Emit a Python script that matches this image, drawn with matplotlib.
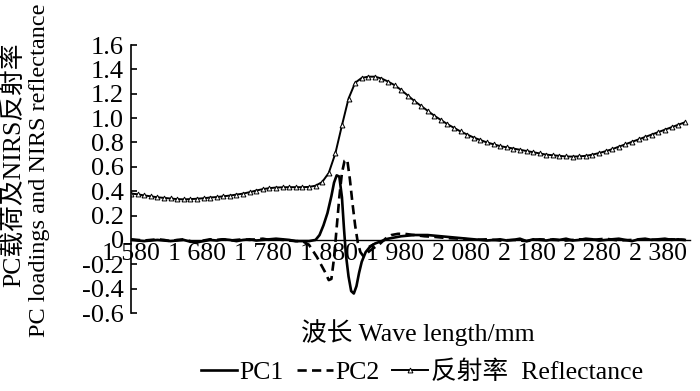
import numpy as np
import matplotlib.pyplot as plt
from matplotlib.lines import Line2D

plt.rcParams['font.family'] = ['Liberation Serif', 'Noto Sans CJK SC']

# reflectance, every 10 nm
wl_ref = list(range(1580, 2430, 10))
reflect = [0.38, 0.375, 0.365, 0.358, 0.35, 0.345, 0.34, 0.335, 0.333, 0.335,
           0.338, 0.342, 0.348, 0.352, 0.358, 0.364, 0.372, 0.38, 0.392, 0.405,
           0.417, 0.425, 0.43, 0.432, 0.433, 0.433, 0.433, 0.435, 0.445, 0.475,
           0.55, 0.71, 0.94, 1.16, 1.29, 1.33, 1.34, 1.34, 1.325, 1.30,
           1.27, 1.23, 1.185, 1.14, 1.10, 1.06, 1.02, 0.985, 0.95, 0.92,
           0.89, 0.865, 0.84, 0.82, 0.80, 0.785, 0.77, 0.76, 0.75, 0.74,
           0.73, 0.72, 0.71, 0.70, 0.695, 0.69, 0.685, 0.684, 0.686, 0.69,
           0.70, 0.713, 0.728, 0.745, 0.765, 0.785, 0.805, 0.825, 0.845, 0.865,
           0.885, 0.905, 0.925, 0.945, 0.965]

wl_pc1 = [1580, 1590, 1600, 1610, 1620, 1630, 1640, 1650, 1660, 1670, 1680, 1690,
          1700, 1710, 1720, 1730, 1740, 1750, 1760, 1770, 1780, 1790, 1800, 1810,
          1820, 1830, 1840, 1850, 1860, 1866, 1872, 1878, 1884, 1888, 1892, 1896,
          1900, 1903, 1906, 1910, 1914, 1918, 1922, 1926, 1930, 1936, 1942, 1950,
          1960, 1970, 1980, 1990, 2000, 2010, 2020, 2030, 2040, 2050, 2060, 2070,
          2080, 2090, 2100, 2110, 2120, 2130, 2140, 2150, 2160, 2170, 2180, 2190,
          2200, 2210, 2220, 2230, 2240, 2250, 2260, 2270, 2280, 2290, 2300, 2310,
          2320, 2330, 2340, 2350, 2360, 2370, 2380, 2390, 2400, 2410, 2420]
pc1 = [0.0, -0.005, -0.01, -0.005, 0.0, -0.005, -0.01, -0.005, 0.0, -0.015, -0.02, -0.01,
       0.0, -0.005, 0.005, 0.0, -0.01, 0.0, 0.005, -0.005, 0.0, 0.005, 0.01, 0.005,
       0.0, -0.01, -0.01, -0.01, 0.0, 0.04, 0.12, 0.22, 0.36, 0.47, 0.53, 0.52,
       0.35, 0.1, -0.12, -0.3, -0.42, -0.44, -0.38, -0.27, -0.18, -0.1, -0.06, -0.03,
       -0.01, 0.01, 0.02, 0.03, 0.035, 0.04, 0.04, 0.04, 0.035, 0.03, 0.025, 0.02,
       0.015, 0.01, 0.005, 0.0, -0.005, 0.0, 0.005, -0.005, 0.0, 0.01, -0.01, 0.005,
       0.0, -0.005, 0.005, 0.0, 0.01, -0.005, 0.0, 0.01, 0.005, -0.005, 0.0, 0.005,
       0.01, 0.0, -0.01, 0.005, 0.01, 0.0, 0.005, 0.01, 0.0, 0.005, 0.0]

wl_pc2 = [1580, 1590, 1600, 1610, 1620, 1630, 1640, 1650, 1660, 1670, 1680, 1690,
          1700, 1710, 1720, 1730, 1740, 1750, 1760, 1770, 1780, 1790, 1800, 1810,
          1820, 1830, 1840, 1850, 1856, 1862, 1868, 1874, 1880, 1884, 1888, 1892,
          1896, 1900, 1904, 1908, 1912, 1916, 1920, 1924, 1928, 1932, 1936, 1942,
          1950, 1958, 1966, 1975, 1985, 1995, 2010, 2025, 2040, 2060, 2080, 2100,
          2120, 2140, 2160, 2180, 2200, 2220, 2240, 2260, 2280, 2300, 2320, 2340,
          2360, 2380, 2400, 2420]
pc2 = [0.005, 0.0, -0.005, 0.0, 0.005, 0.0, -0.01, 0.0, 0.005, -0.01, -0.02, -0.005,
       0.005, 0.0, 0.005, -0.005, 0.0, 0.005, 0.0, 0.005, 0.01, 0.0, 0.005, 0.0,
       -0.005, -0.01, -0.01, -0.04, -0.09, -0.14, -0.2, -0.26, -0.33, -0.32, -0.15, 0.1,
       0.35, 0.55, 0.65, 0.66, 0.5, 0.3, 0.12, -0.02, -0.1, -0.13, -0.12, -0.09,
       -0.06, -0.03, 0.01, 0.04, 0.05, 0.05, 0.04, 0.03, 0.025, 0.015, 0.01, 0.0,
       0.005, -0.005, 0.0, -0.01, 0.005, 0.0, -0.005, 0.005, 0.0, 0.01, -0.005, 0.0,
       0.005, 0.0, 0.005, 0.0]

xticks = list(range(1580, 2400, 100))
xlabels = ['1 580', '1 680', '1 780', '1 880', '1 980', '2 080', '2 180', '2 280', '2 380']
yticks = [1.6, 1.4, 1.2, 1.0, 0.8, 0.6, 0.4, 0.2, 0, -0.2, -0.4, -0.6]
ylabels = ['1.6', '1.4', '1.2', '1.0', '0.8', '0.6', '0.4', '0.2', '0', '-0.2', '-0.4', '-0.6']

fig = plt.figure(figsize=(7, 3.91), dpi=100)
ax = fig.add_axes([131 / 700, 1 - 313 / 391, 559 / 700, 268 / 391])

ax.plot(wl_pc1, pc1, color='black', lw=1.9)
ax.plot(wl_pc2, pc2, color='black', lw=1.9, dashes=(3.5, 2))
ax.plot(wl_ref, reflect, color='black', lw=1.4, marker='^', ms=3.5,
        mfc='white', mec='black', mew=0.7)

ax.set_xlim(1580, 2428)
ax.set_ylim(-0.6, 1.6)
ax.spines['top'].set_visible(False)
ax.spines['right'].set_visible(False)
ax.spines['bottom'].set_position(('data', 0))
ax.spines['left'].set_linewidth(1.2)
ax.spines['bottom'].set_linewidth(1.0)

ax.set_xticks(xticks)
ax.set_xticklabels(xlabels, fontsize=18.5)
ax.set_yticks(yticks)
ax.set_yticklabels(ylabels, fontsize=19)
ax.tick_params(axis='x', length=0, pad=2)
ax.tick_params(axis='y', direction='in', length=4, width=1.2, pad=5)

fig.text(14 / 700, 1 - 165 / 391, 'PC载荷及NIRS反射率', rotation=90,
         ha='center', va='center', fontsize=18.5)
fig.text(40 / 700, 1 - 170 / 391, 'PC loadings and NIRS reflectance', rotation=90,
         ha='center', va='center', fontsize=17.5)
fig.text(418 / 700, 1 - 333 / 391, '波长 Wave length/mm',
         ha='center', va='center', fontsize=18.5)

handles = [Line2D([], [], color='black', lw=1.9),
           Line2D([], [], color='black', lw=1.9, dashes=(3.5, 2)),
           Line2D([], [], color='black', lw=1.4, marker='^', ms=3.5,
                  mfc='white', mec='black', mew=0.7)]
fig.legend(handles, ['PC1', 'PC2', '反射率  Reflectance'], loc='center',
           bbox_to_anchor=(422 / 700, 1 - 372 / 391), ncol=3, frameon=False,
           fontsize=18.5, handlelength=1.4, handletextpad=0.1, columnspacing=0.5,
           borderpad=0, borderaxespad=0)

fig.savefig('out.png', dpi=100)
